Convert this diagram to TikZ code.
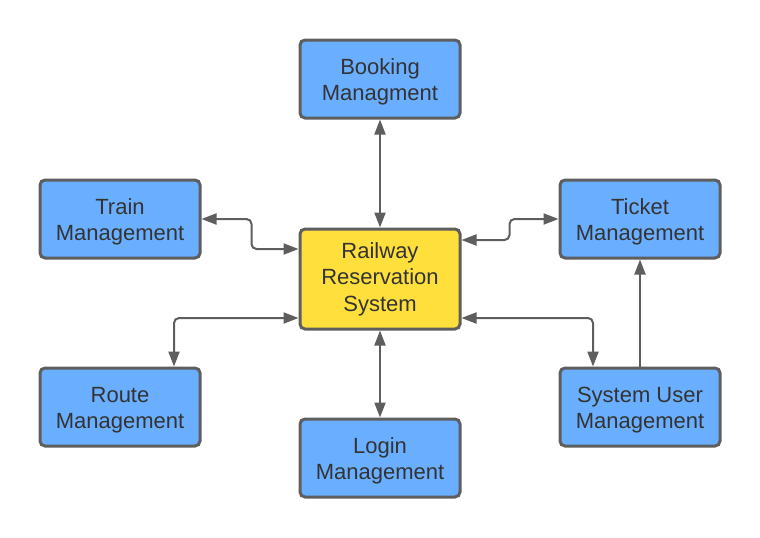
\documentclass[tikz,border=0pt]{standalone}
\usepackage{fontspec}
\setmainfont{Liberation Sans}
\usepackage{xcolor}
\usepackage{tikz}
\usetikzlibrary{arrows.meta}

\definecolor{boxblue}{HTML}{6AAFFF}
\definecolor{boxyellow}{HTML}{FFDF3C}
\definecolor{edgegray}{HTML}{5E5E5E}
\definecolor{textgray}{HTML}{333333}

\tikzset{
    module/.style={draw=edgegray, line width=1.5pt, rounded corners=2.5pt, fill=boxblue,
        align=center, text=textgray, minimum width=80pt, minimum height=39pt,
        inner sep=0pt, font=\fontsize{11}{13.25}\selectfont},
    core/.style={module, fill=boxyellow, minimum height=50pt},
    link/.style={draw=edgegray, line width=1pt, rounded corners=2.5pt,
        arrows={Triangle[length=7.5pt,width=5.5pt]-Triangle[length=7.5pt,width=5.5pt]}},
    onelink/.style={link, arrows={-Triangle[length=7.5pt,width=5.5pt]}}
}

\begin{document}
\begin{tikzpicture}[x=0.5pt,y=-0.5pt]

\useasboundingbox (0,0) rectangle (760,537);

% --------------------------------------------------
% Centre: the reservation system
% --------------------------------------------------
\node[core] (rrs) at (380,279) {Railway\\Reservation\\System};

% --------------------------------------------------
% Surrounding modules (text sits a little low in these)
% --------------------------------------------------
\begin{scope}[every node/.append style={text height=24pt}]
\node[module] (booking) at (380,79)  {Booking\\Managment};
\node[module] (train)   at (120,219) {Train\\Management};
\node[module] (ticket)  at (640,219) {Ticket\\Management};
\node[module] (route)   at (120,407) {Route\\Management};
\node[module] (login)   at (380,458) {Login\\Management};
\node[module] (sysuser) at (640,407) {System User\\Management};
\end{scope}

% --------------------------------------------------
% Connectors
% --------------------------------------------------
\draw[link] (booking) -- (rrs);
\draw[link] (rrs) -- (login);

\draw[link] (train.east) -- ++(25pt,0) |- ([yshift=15pt]rrs.west);
\draw[link] ([yshift=19.5pt]rrs.east) -- ++(24pt,0) |- (ticket.west);

\draw[link] ([yshift=-19.5pt]rrs.west) -| ([xshift=27pt]route.north);
\draw[link] ([yshift=-19.5pt]rrs.east) -| ([xshift=-23.5pt]sysuser.north);

\draw[onelink] (sysuser) -- (ticket);

\end{tikzpicture}
\end{document}
